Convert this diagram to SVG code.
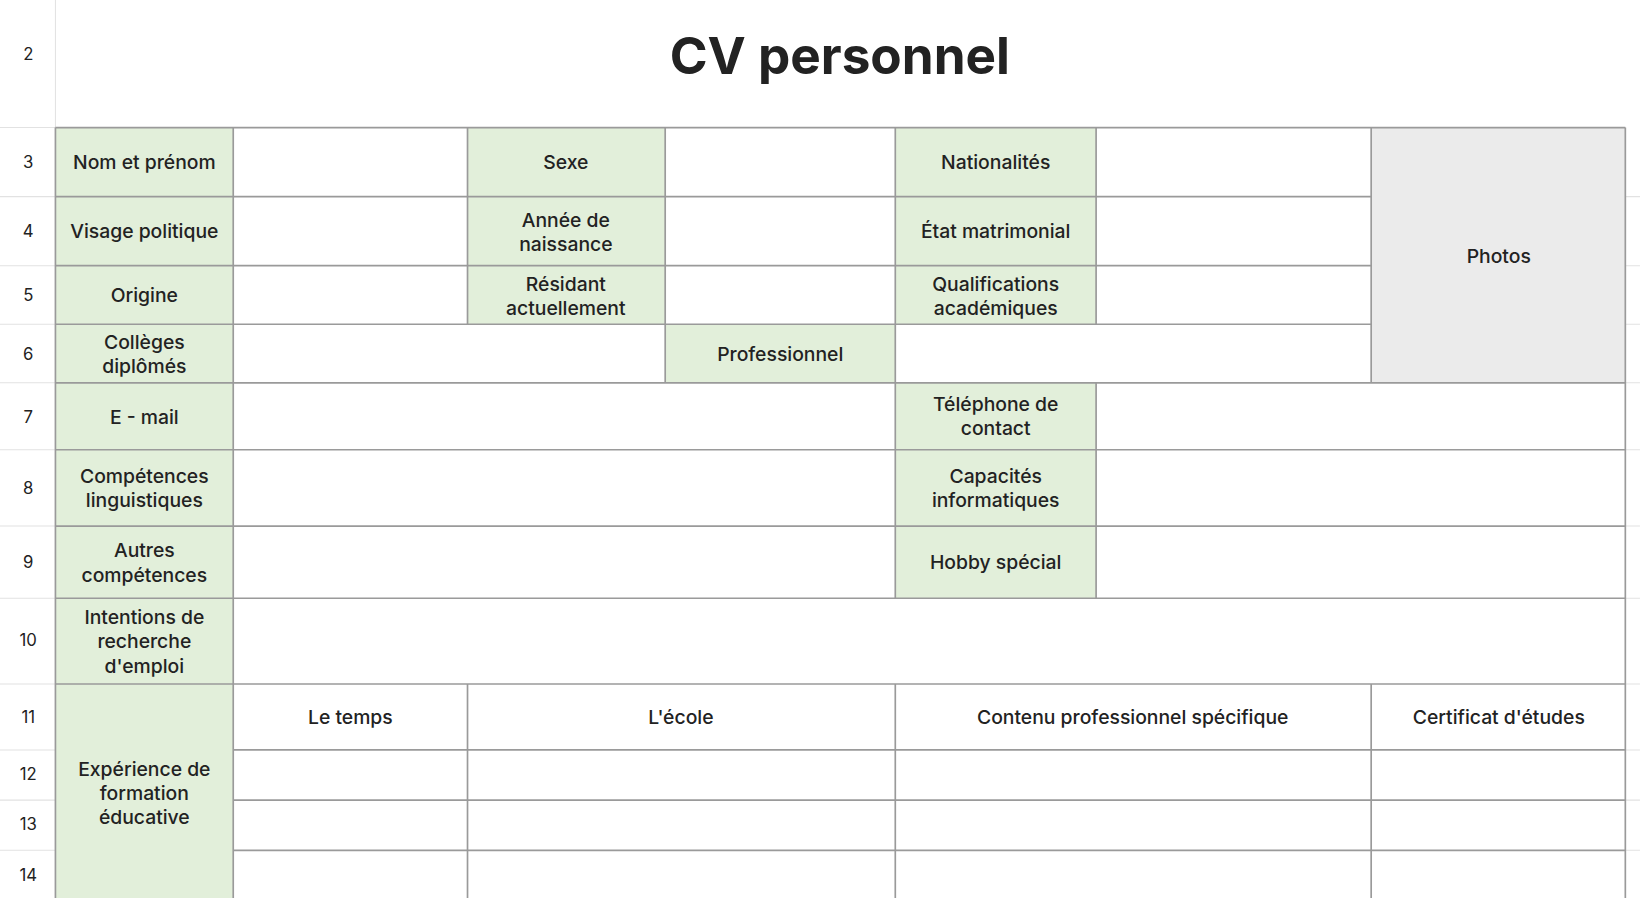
<svg xmlns="http://www.w3.org/2000/svg" width="1640" height="898" viewBox="0 0 1640 898">
<style>
.g{fill:#e2efda}.p{fill:#ebebeb}
.l{stroke:#9a9a9a;stroke-width:1.6;fill:none}
.h{stroke:#e2e2e2;stroke-width:1;fill:none}
text{font-family:Inter,"Noto Sans","Liberation Sans",sans-serif;fill:#222;text-anchor:middle}
.t{font-size:18.5px;font-weight:500}
.n{font-size:16px}
</style>
<rect width="1640" height="898" fill="#fff"/>
<g transform="scale(1.0459)">
<g id="fills">
<rect class="g" x="53" y="122" width="170" height="737"/>
<rect class="g" x="447" y="122" width="189" height="188"/>
<rect class="g" x="636" y="310" width="220" height="56"/>
<rect class="g" x="856" y="122" width="192" height="188"/>
<rect class="g" x="856" y="366" width="192" height="206"/>
<rect class="p" x="1311" y="122" width="243" height="244"/>
</g>
<g id="header-grid">
<path class="h" d="M53 0V859M0 122H53M0 188H53M0 254H53M0 310H53M0 366H53M0 430H53M0 503H53M0 572H53M0 654H53M0 717H53M0 765H53M0 813H53M1554 188H1568M1554 254H1568M1554 310H1568M1554 366H1568M1554 430H1568M1554 503H1568M1554 572H1568M1554 654H1568M1554 717H1568M1554 765H1568M1554 813H1568"/>
</g>
<g id="connectors">
<path class="l" d="M53 122H1554M53 188H1311M53 254H1311M53 310H1311M53 366H1554M53 430H1554M53 503H1554M53 572H1554M53 654H1554M223 717H1554M223 765H1554M223 813H1554"/>
<path class="l" d="M53 122V859M223 122V859M447 122V310M447 654V859M636 122V366M856 122V572M856 654V859M1048 122V310M1048 366V572M1311 122V366M1311 654V859M1554 122V859"/>
</g>
<g id="rownums" class="n">
<text class="n" x="27" y="57">2</text>
<text class="n" x="27" y="161">3</text>
<text class="n" x="27" y="227">4</text>
<text class="n" x="27" y="288">5</text>
<text class="n" x="27" y="344">6</text>
<text class="n" x="27" y="404">7</text>
<text class="n" x="27" y="472">8</text>
<text class="n" x="27" y="543">9</text>
<text class="n" x="27" y="618">10</text>
<text class="n" x="27" y="691">11</text>
<text class="n" x="27" y="746">12</text>
<text class="n" x="27" y="794">13</text>
<text class="n" x="27" y="842">14</text>
</g>
<g id="title"><text x="803" y="71" style="font-size:49px;font-weight:700">CV personnel</text></g>
<g id="labels" class="t">
<text class="t" x="138" y="162">Nom et prénom</text>
<text class="t" x="541" y="162">Sexe</text>
<text class="t" x="952" y="162">Nationalités</text>
<text class="t" x="1433" y="251">Photos</text>
<text class="t" x="138" y="228">Visage politique</text>
<text class="t" x="541" y="217">Année de</text><text class="t" x="541" y="240">naissance</text>
<text class="t" x="952" y="228">État matrimonial</text>
<text class="t" x="138" y="289">Origine</text>
<text class="t" x="541" y="278">Résidant</text><text class="t" x="541" y="301">actuellement</text>
<text class="t" x="952" y="278">Qualifications</text><text class="t" x="952" y="301">académiques</text>
<text class="t" x="138" y="334">Collèges</text><text class="t" x="138" y="357">diplômés</text>
<text class="t" x="746" y="345">Professionnel</text>
<text class="t" x="138" y="405">E - mail</text>
<text class="t" x="952" y="393">Téléphone de</text><text class="t" x="952" y="416">contact</text>
<text class="t" x="138" y="462">Compétences</text><text class="t" x="138" y="485">linguistiques</text>
<text class="t" x="952" y="462">Capacités</text><text class="t" x="952" y="485">informatiques</text>
<text class="t" x="138" y="533">Autres</text><text class="t" x="138" y="556">compétences</text>
<text class="t" x="952" y="544">Hobby spécial</text>
<text class="t" x="138" y="597">Intentions de</text><text class="t" x="138" y="620">recherche</text><text class="t" x="138" y="643">d'emploi</text>
<text class="t" x="138" y="742">Expérience de</text><text class="t" x="138" y="765">formation</text><text class="t" x="138" y="788">éducative</text>
<text class="t" x="335" y="692">Le temps</text>
<text class="t" x="651" y="692">L'école</text>
<text class="t" x="1083" y="692">Contenu professionnel spécifique</text>
<text class="t" x="1433" y="692">Certificat d'études</text>
</g>
</g>
</svg>
